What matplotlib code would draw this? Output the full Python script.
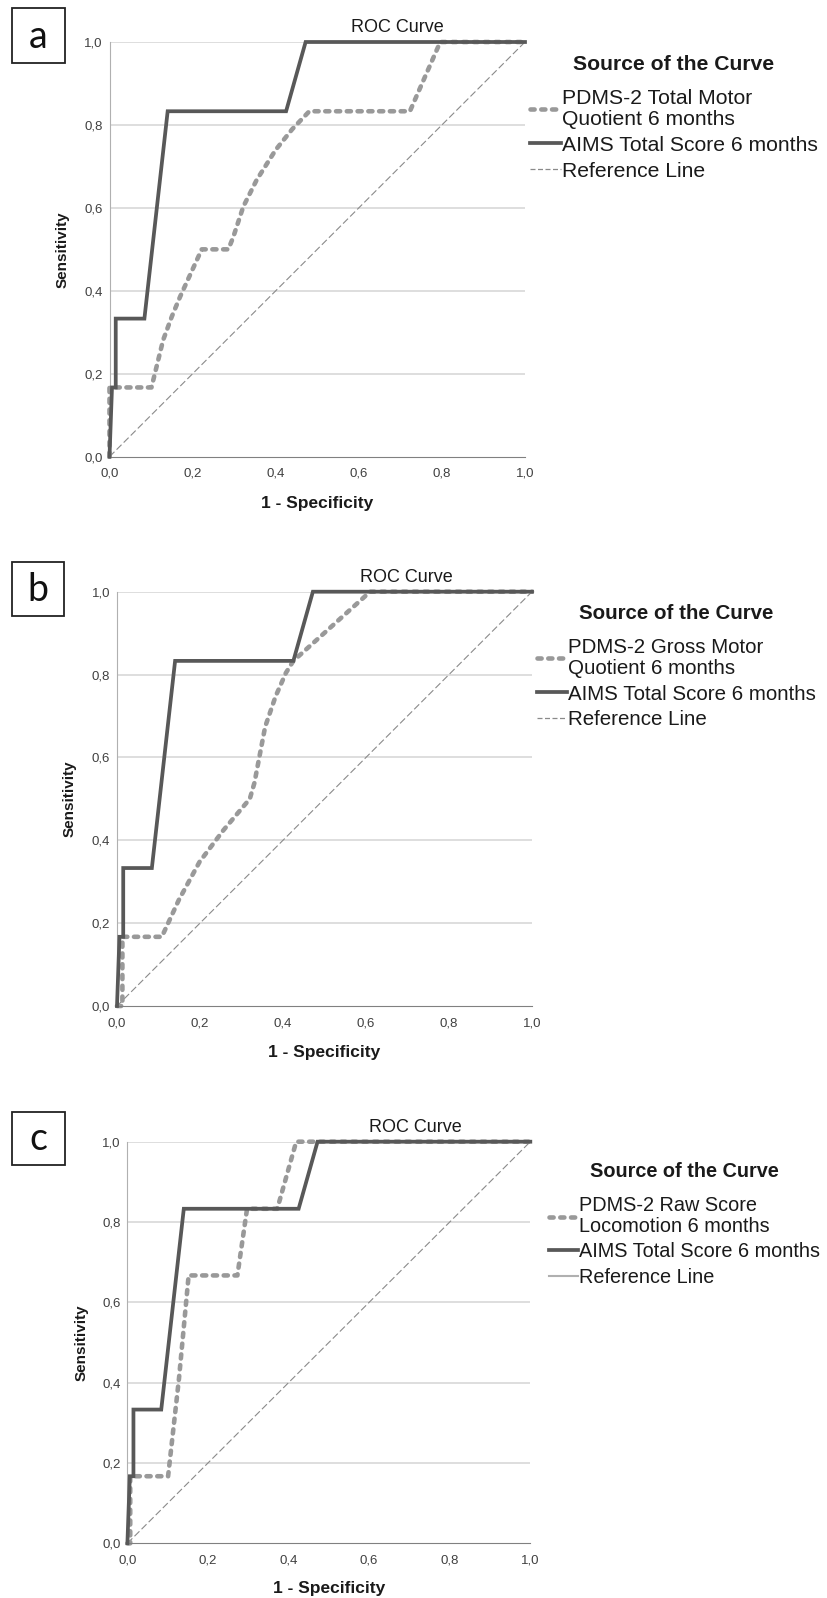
import matplotlib
matplotlib.use('Agg')
import matplotlib.pyplot as plt
from matplotlib.lines import Line2D
from matplotlib.patches import Rectangle

plt.rcParams['font.family'] = ['Liberation Sans', 'DejaVu Sans']

# data
ticks = [0.0, 0.2, 0.4, 0.6, 0.8, 1.0]
tick_labels = ['0,0', '0,2', '0,4', '0,6', '0,8', '1,0']

fpr_aims = [0.0, 0.006, 0.015, 0.015, 0.084, 0.140, 0.425, 0.472, 1.0]
tpr_aims = [0.0, 0.167, 0.167, 0.333, 0.333, 0.833, 0.833, 1.0, 1.0]

fpr_total = [0.0, 0.0, 0.101, 0.129, 0.150, 0.170, 0.222, 0.286, 0.298, 0.322, 0.354, 0.40, 0.44, 0.481, 0.723, 0.796, 1.0]
tpr_total = [0.0, 0.167, 0.167, 0.281, 0.338, 0.386, 0.5, 0.5, 0.53, 0.603, 0.667, 0.74, 0.79, 0.833, 0.833, 1.0, 1.0]

fpr_gross = [0.0, 0.013, 0.013, 0.108, 0.149, 0.199, 0.257, 0.32, 0.331, 0.357, 0.382, 0.407, 0.425, 0.61, 1.0]
tpr_gross = [0.0, 0.0, 0.167, 0.167, 0.256, 0.348, 0.425, 0.5, 0.538, 0.674, 0.747, 0.804, 0.833, 1.0, 1.0]

fpr_loco = [0.0, 0.007, 0.007, 0.101, 0.128, 0.152, 0.273, 0.297, 0.372, 0.419, 1.0]
tpr_loco = [0.0, 0.0, 0.167, 0.167, 0.41, 0.667, 0.667, 0.833, 0.833, 1.0, 1.0]

ref_x = [0.0, 1.0]
ref_y = [0.0, 1.0]

panels = [
    dict(letter='a', fpr=fpr_total, tpr=tpr_total, name='PDMS-2 Total Motor\nQuotient 6 months',
         ax=[109.5, 42.0, 525.0, 456.7], box=[12, 8, 65, 63], title_xy=[397, 27],
         leg=[530, 55], fs=15.2, ref_dashed=True),
    dict(letter='b', fpr=fpr_gross, tpr=tpr_gross, name='PDMS-2 Gross Motor\nQuotient 6 months',
         ax=[117.0, 591.7, 532.0, 1006.0], box=[12, 562, 64, 616], title_xy=[406, 577],
         leg=[537, 604], fs=14.8, ref_dashed=True),
    dict(letter='c', fpr=fpr_loco, tpr=tpr_loco, name='PDMS-2 Raw Score\nLocomotion 6 months',
         ax=[127.4, 1141.7, 530.3, 1543.3], box=[12, 1112, 65, 1165], title_xy=[415, 1128],
         leg=[549, 1162], fs=14.3, ref_dashed=False),
]

W, H = 827, 1598
fig = plt.figure(figsize=(W / 100, H / 100), dpi=100)

dark = '#585858'
light = '#999999'
refc = '#8a8a8a'

for p in panels:
    x0, y0, x1, y1 = p['ax']
    ax = fig.add_axes([x0 / W, 1 - y1 / H, (x1 - x0) / W, (y1 - y0) / H])
    ax.set_xlim(0, 1)
    ax.set_ylim(0, 1)
    for y in ticks[1:]:
        ax.axhline(y, color='#d4d4d4', lw=1.1, zorder=0)
    ax.plot(ref_x, ref_y, color=refc, lw=0.8, ls=(0, (6.3, 2.7)), zorder=1, clip_on=False)
    l1, = ax.plot(p['fpr'], p['tpr'], color=light, lw=3.3, ls=(0, (0.9, 1.45)),
                  dash_capstyle='round', zorder=2, clip_on=False)
    l2, = ax.plot(fpr_aims, tpr_aims, color=dark, lw=2.7, zorder=3, clip_on=False,
                  solid_joinstyle='miter')
    for s in ['top', 'right']:
        ax.spines[s].set_visible(False)
    ax.spines['left'].set_color('#b0b0b0')
    ax.spines['bottom'].set_color('#808080')
    ax.set_xticks(ticks)
    ax.set_xticklabels(tick_labels)
    ax.set_yticks(ticks)
    ax.set_yticklabels(tick_labels)
    ax.tick_params(length=0, labelsize=9.5, colors='#404040', pad=5)
    ax.tick_params(axis='x', pad=8)

    ax.set_xlabel('1 - Specificity', fontsize=12.5, fontweight='bold', color='#1a1a1a', va='center')
    ax.xaxis.set_label_coords(0.5, -0.112)
    ax.set_ylabel('Sensitivity', fontsize=11, fontweight='bold', color='#1a1a1a', va='center')
    ax.yaxis.set_label_coords(-0.114, 0.5)

    tx, ty = p['title_xy']
    fig.text(tx / W, 1 - ty / H, 'ROC Curve', fontsize=13, ha='center', va='center', color='#1a1a1a')

    # legend
    if p['ref_dashed']:
        ref_handle = Line2D([], [], color=refc, lw=0.9, ls=(0, (4, 2)))
    else:
        ref_handle = Line2D([], [], color='#b0b0b0', lw=1.5)
    lx, ly = p['leg']
    leg = ax.legend([l1, l2, ref_handle], [p['name'], 'AIMS Total Score 6 months', 'Reference Line'],
                    loc='upper left', bbox_to_anchor=(lx / W, 1 - ly / H),
                    bbox_transform=fig.transFigure, frameon=False, fontsize=p['fs'],
                    title='Source of the Curve', title_fontproperties={'weight': 'bold', 'size': p['fs']},
                    borderpad=0, borderaxespad=0, handlelength=1.45, handletextpad=0.05,
                    labelspacing=0.33)
    leg._legend_box.sep = 11
    for t in leg.get_texts():
        t.set_linespacing(1.1)
        t.set_color('#1a1a1a')
    leg.get_title().set_color('#1a1a1a')

    bx0, by0, bx1, by1 = p['box']
    fig.add_artist(Rectangle((bx0 / W, 1 - by1 / H), (bx1 - bx0) / W, (by1 - by0) / H,
                             transform=fig.transFigure, fill=False, ec='#222222', lw=1.3))
    fig.text((bx0 + bx1) / 2 / W, 1 - ((by0 + by1) / 2 + 1) / H, p['letter'],
             fontsize=27, family=['Lato', 'DejaVu Sans'], ha='center', va='center', color='#111111')

fig.savefig('out.png', dpi=100, facecolor='white')
